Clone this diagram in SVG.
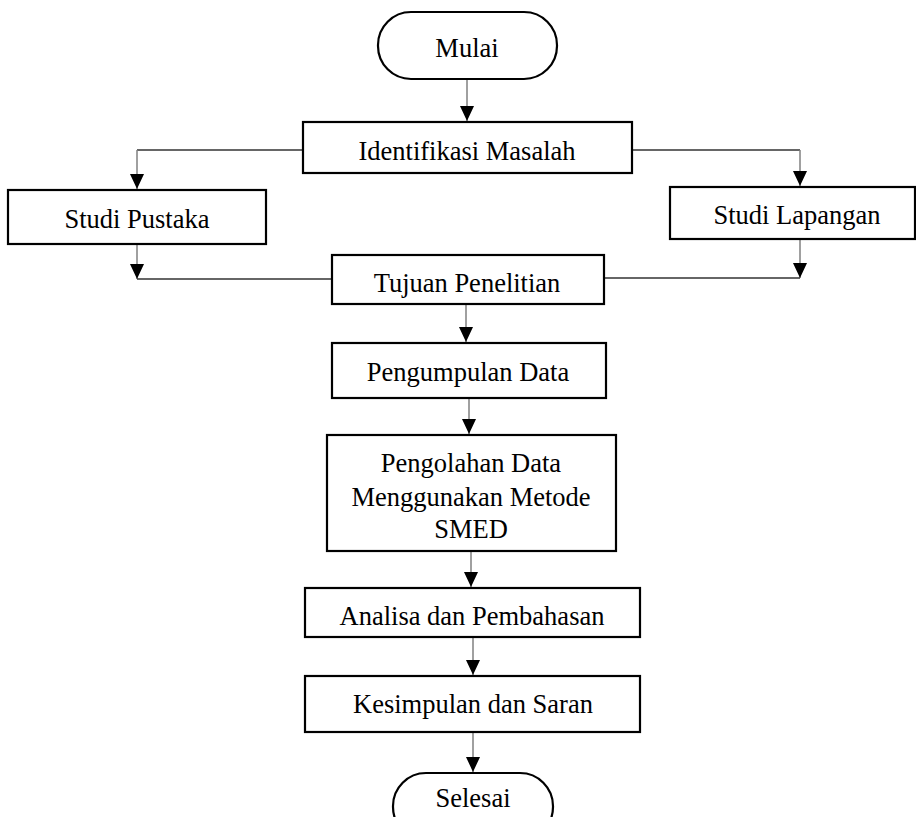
<svg xmlns="http://www.w3.org/2000/svg" width="916" height="817" viewBox="0 0 916 817">
<style>
.box{fill:#fff;stroke:#000;stroke-width:2.2}
.t{font-family:"Liberation Serif","Times New Roman",serif;font-size:26.5px;fill:#000;text-anchor:middle}
.v{stroke:#808080;stroke-width:1.5;fill:none}
.h{stroke:#333;stroke-width:1.3;fill:none}
</style>
<defs>
<marker id="ah" markerUnits="userSpaceOnUse" markerWidth="16" markerHeight="16" viewBox="0 0 16 16" refX="15" refY="8" orient="auto">
<path d="M0,1 L15,8 L0,15 Z" fill="#000"/>
</marker>
</defs>
<g id="connectors">
<line class="v" x1="467" y1="79" x2="467" y2="121" marker-end="url(#ah)"/>
<polyline class="h" points="303,150 137,150"/>
<line class="v" x1="137" y1="150" x2="137" y2="189" marker-end="url(#ah)"/>
<polyline class="h" points="632,150 800,150"/>
<line class="v" x1="800" y1="150" x2="800" y2="186" marker-end="url(#ah)"/>
<line class="v" x1="137" y1="244" x2="137" y2="279" marker-end="url(#ah)"/>
<line class="h" x1="137" y1="279" x2="332" y2="279"/>
<line class="v" x1="800" y1="239" x2="800" y2="278" marker-end="url(#ah)"/>
<line class="h" x1="604" y1="278" x2="800" y2="278"/>
<line class="v" x1="466" y1="304" x2="466" y2="342" marker-end="url(#ah)"/>
<line class="v" x1="469" y1="398" x2="469" y2="434" marker-end="url(#ah)"/>
<line class="v" x1="471" y1="551" x2="471" y2="587" marker-end="url(#ah)"/>
<line class="v" x1="473" y1="637" x2="473" y2="675" marker-end="url(#ah)"/>
<line class="v" x1="473" y1="732" x2="473" y2="772" marker-end="url(#ah)"/>
</g>
<g id="mulai"><rect class="box" x="378" y="12" width="179" height="67" rx="33" ry="33"/><text class="t" x="467" y="57">Mulai</text></g>
<g id="identifikasi"><rect class="box" x="303" y="122" width="329" height="51"/><text class="t" x="467" y="160">Identifikasi Masalah</text></g>
<g id="pustaka"><rect class="box" x="8" y="190" width="258" height="54"/><text class="t" x="137" y="228">Studi Pustaka</text></g>
<g id="lapangan"><rect class="box" x="670" y="187" width="245" height="52"/><text class="t" x="797" y="224">Studi Lapangan</text></g>
<g id="tujuan"><rect class="box" x="332" y="255" width="272" height="49"/><text class="t" x="467" y="292">Tujuan Penelitian</text></g>
<g id="pengumpulan"><rect class="box" x="332" y="343" width="274" height="55"/><text class="t" x="468" y="381">Pengumpulan Data</text></g>
<g id="pengolahan"><rect class="box" x="327" y="435" width="289" height="116"/><text class="t" x="471" y="472">Pengolahan Data</text><text class="t" x="471" y="506">Menggunakan Metode</text><text class="t" x="471" y="538">SMED</text></g>
<g id="analisa"><rect class="box" x="305" y="588" width="335" height="49"/><text class="t" x="472" y="625">Analisa dan Pembahasan</text></g>
<g id="kesimpulan"><rect class="box" x="305" y="676" width="335" height="56"/><text class="t" x="473" y="713">Kesimpulan dan Saran</text></g>
<g id="selesai"><rect class="box" x="393" y="773" width="160" height="67" rx="33" ry="33"/><text class="t" x="473" y="807">Selesai</text></g>
</svg>
